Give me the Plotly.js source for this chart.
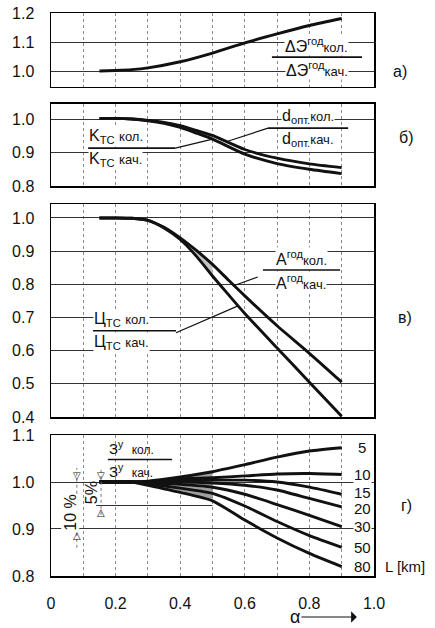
<!DOCTYPE html>
<html><head><meta charset="utf-8">
<script src="https://cdn.plot.ly/plotly-3.0.1.min.js"></script>
<style>html,body{margin:0;padding:0;background:#fff}#chart{width:435px;height:628px}</style>
</head><body><div id="chart"></div>
<script>
// ---- data ----
const alphaA = [0.15, 0.2, 0.25, 0.3, 0.4, 0.5, 0.6, 0.7, 0.8, 0.9];
const ratioEnergyLoss = [1.0, 1.002, 1.005, 1.011, 1.032, 1.062, 1.097, 1.128, 1.157, 1.181];

const alphaB = [0.15, 0.2, 0.25, 0.3, 0.35, 0.4, 0.45, 0.5, 0.6, 0.7, 0.8, 0.9];
const ratioDopt = [1.002, 1.002, 1.0, 0.996, 0.99, 0.98, 0.966, 0.951, 0.909, 0.883, 0.866, 0.855];
const ratioKtc  = [1.002, 1.002, 1.0, 0.995, 0.987, 0.975, 0.958, 0.940, 0.895, 0.867, 0.850, 0.837];

const alphaC = [0.15, 0.2, 0.25, 0.3, 0.35, 0.4, 0.45, 0.5, 0.55, 0.6, 0.7, 0.8, 0.9];
const ratioAnnual = [1.0, 1.0, 0.999, 0.993, 0.972, 0.94, 0.902, 0.86, 0.812, 0.765, 0.675, 0.592, 0.505];
const ratioCtc    = [1.0, 1.0, 0.999, 0.993, 0.970, 0.935, 0.885, 0.825, 0.768, 0.712, 0.608, 0.505, 0.402];

const alphaD = [0.15, 0.2, 0.25, 0.3, 0.4, 0.5, 0.6, 0.7, 0.8, 0.9];
const lengthLabels = ['5', '10', '15', '20', '30', '50', '80'];
const costL5  = [1.0, 1.0, 1.0, 1.002, 1.011, 1.022, 1.037, 1.053, 1.066, 1.073];
const costL10 = [1.0, 1.0, 1.0, 1.001, 1.007, 1.009, 1.013, 1.017, 1.018, 1.016];
const costL15 = [1.0, 1.0, 1.0, 1.0, 1.004, 1.004, 1.004, 1.0, 0.989, 0.974];
const costL20 = [1.0, 1.0, 1.0, 0.999, 1.0, 0.998, 0.993, 0.983, 0.965, 0.947];
const costL30 = [1.0, 1.0, 1.0, 0.998, 0.995, 0.989, 0.974, 0.952, 0.929, 0.905];
const costL50 = [1.0, 1.0, 1.0, 0.996, 0.987, 0.976, 0.949, 0.916, 0.886, 0.861];
const costL80 = [1.0, 1.0, 1.0, 0.993, 0.978, 0.960, 0.919, 0.881, 0.848, 0.820];

const xTickVals = [0, 0.2, 0.4, 0.6, 0.8, 1.0];
const xTickText = ['0', '0.2', '0.4', '0.6', '0.8', '1.0'];

// ---- build ----
const FONT = 'Liberation Sans, Arial, sans-serif';
const INK = '#111';
const costSeries = [costL5, costL10, costL15, costL20, costL30, costL50, costL80];

function curve(x, y, xa, ya) {
  return {x: x, y: y, xaxis: xa, yaxis: ya, type: 'scatter', mode: 'lines',
          line: {color: INK, width: 2.9, shape: 'spline', smoothing: 0.6},
          hoverinfo: 'skip', showlegend: false};
}
function band(xs, top, bot, lo, hi, xa, ya, color) {
  const idx = xs.map((v, i) => i).filter(i => xs[i] >= lo - 1e-9 && xs[i] <= hi + 1e-9);
  const rev = idx.slice().reverse();
  return {x: idx.map(i => xs[i]).concat(rev.map(i => xs[i])),
          y: idx.map(i => top[i]).concat(rev.map(i => bot[i])),
          xaxis: xa, yaxis: ya, type: 'scatter', mode: 'lines', fill: 'toself',
          fillcolor: color, line: {width: 0}, hoverinfo: 'skip', showlegend: false};
}

const traces = [];
traces.push(curve(alphaA, ratioEnergyLoss, 'x', 'y'));
traces.push(band(alphaB, ratioDopt, ratioKtc, 0.3, 0.5, 'x2', 'y2', '#c4c4c4'));
traces.push(curve(alphaB, ratioDopt, 'x2', 'y2'));
traces.push(curve(alphaB, ratioKtc, 'x2', 'y2'));
traces.push(band(alphaC, ratioAnnual, ratioCtc, 0.3, 0.5, 'x3', 'y3', '#c4c4c4'));
traces.push(curve(alphaC, ratioAnnual, 'x3', 'y3'));
traces.push(curve(alphaC, ratioCtc, 'x3', 'y3'));
traces.push(band(alphaD, costL5, costL80, 0.25, 0.5, 'x4', 'y4', '#a0a0a0'));
costSeries.forEach(s => traces.push(curve(alphaD, s, 'x4', 'y4')));

const xBase = {range: [0, 1], tickvals: xTickVals, ticktext: xTickText,
  showgrid: true, gridcolor: '#8a8a8a', griddash: 'dot', gridwidth: 1,
  minor: {dtick: 0.1, tick0: 0, showgrid: true, gridcolor: '#8a8a8a', griddash: 'dot', gridwidth: 1, ticks: ''},
  showline: true, linecolor: '#000', linewidth: 1.5, mirror: true,
  zeroline: false, ticks: '', showticklabels: false,
  tickfont: {size: 16, color: INK, family: FONT}};
function yAx(domain, range, anchor) {
  return {domain: domain, range: range, anchor: anchor, dtick: 0.1, tick0: 0,
    tickformat: '.1f', showgrid: true, gridcolor: '#333', gridwidth: 1,
    showline: true, linecolor: '#000', linewidth: 1.5, mirror: true,
    zeroline: false, ticks: '', ticklabelstandoff: 12,
    tickfont: {size: 16, color: INK, family: FONT}};
}

const ann = [];
const shapes = [];
function txt(xr, yr, x, y, text, opts) {
  ann.push(Object.assign({xref: xr, yref: yr, x: x, y: y, text: text, showarrow: false,
    font: {size: 16, color: INK, family: FONT}, bgcolor: '#fff', borderpad: 0}, opts || {}));
}
function seg(xr, yr, x0, y0, x1, y1, opts) {
  shapes.push(Object.assign({type: 'line', xref: xr, yref: yr, x0: x0, y0: y0, x1: x1, y1: y1,
    line: {color: INK, width: 1.2}}, opts || {}));
}
const small = (s, px) => '<span style="font-size:' + (px || 13) + 'px">' + s + '</span>';
// fraction: numerator above a bar, denominator below it
function frac(xr, yr, x0, x1, ybar, num, den, align, extraOpts) {
  const xc = align === 'left' ? x0 : (x0 + x1) / 2;
  const xa = align === 'left' ? 'left' : 'center';
  const extra = Object.assign({xanchor: xa}, extraOpts || {});
  seg(xr, yr, x0, ybar, x1, ybar, {line: {color: INK, width: 1.6}});
  txt(xr, yr, xc, ybar, num, Object.assign({yanchor: 'bottom', yshift: 1}, extra));
  txt(xr, yr, xc, ybar, den, Object.assign({yanchor: 'top', yshift: -1}, extra));
}
const letter = {bgcolor: 'rgba(0,0,0,0)', xanchor: 'center', yanchor: 'middle'};

// panel a
frac('x', 'y', 0.684, 0.963, 1.048, 'ΔЭ<sup>год</sup>' + small('кол.'), 'ΔЭ<sup>год</sup>' + small('кач.'));
txt('paper', 'y', 1.08, 1.0, 'а)', letter);

// panel б
frac('x2', 'y2', 0.672, 0.92, 0.973, 'd<sub>опт.</sub>' + small('кол.'), 'd<sub>опт.</sub>' + small('кач.'));
seg('x2', 'y2', 0.672, 0.973, 0.545, 0.933);
frac('x2', 'y2', 0.115, 0.385, 0.913, 'K<sub>TC</sub> ' + small('кол.'), 'K<sub>TC</sub> ' + small('кач.'), 'left');
seg('x2', 'y2', 0.385, 0.913, 0.50, 0.94);
txt('paper', 'y2', 1.10, 0.946, 'б)', letter);

// panel в
frac('x3', 'y3', 0.656, 0.895, 0.843, 'A<sup>год</sup>' + small('кол.'), 'A<sup>год</sup>' + small('кач.'));
seg('x3', 'y3', 0.64, 0.822, 0.563, 0.795);
frac('x3', 'y3', 0.13, 0.387, 0.660, 'Ц<sub>TC</sub> ' + small('кол.'), 'Ц<sub>TC</sub> ' + small('кач.'), 'left');
seg('x3', 'y3', 0.387, 0.654, 0.579, 0.735);
txt('paper', 'y3', 1.095, 0.70, 'в)', letter);

// panel г
frac('x4', 'y4', 0.176, 0.375, 1.048, 'З<sup>у</sup>  ' + small('кол.', 12), 'З<sup>у</sup>  ' + small('кач.', 12), 'left',
     {bgcolor: 'rgba(0,0,0,0)', font: {size: 15, color: INK, family: FONT}});
const labelShift = [0, 0, 2, -2, 0, 0, 0];
lengthLabels.forEach((lab, i) => {
  const s = costSeries[i];
  txt('x4', 'y4', 0.963, s[s.length - 1], lab, {font: {size: 15, color: INK, family: FONT}, yshift: labelShift[i]});
});
txt('paper', 'y4', 1.097, costL80[costL80.length - 1], 'L [km]', {font: {size: 15, color: INK, family: FONT}, bgcolor: 'rgba(0,0,0,0)', xanchor: 'center'});
txt('paper', 'y4', 1.10, 0.951, 'г)', letter);
seg('x4', 'y4', 0.14, 0.95, 0.5, 0.95, {line: {color: '#333', width: 1}});
seg('x4', 'y4', 0.08, 0.86, 0.08, 1.03, {line: {color: '#777', width: 1, dash: 'dot'}});
seg('x4', 'y4', 0.155, 0.93, 0.155, 1.03, {line: {color: '#777', width: 1, dash: 'dot'}});
txt('x4', 'y4', 0.058, 0.934, '10 %', {textangle: -90});
txt('x4', 'y4', 0.125, 0.977, '5%', {textangle: -90, bgcolor: 'rgba(0,0,0,0)'});
const tri = {font: {size: 10, color: INK, family: 'DejaVu Sans'}, bgcolor: 'rgba(0,0,0,0)'};
txt('x4', 'y4', 0.08, 1.0, '▽', Object.assign({yanchor: 'bottom'}, tri));
txt('x4', 'y4', 0.155, 1.0, '▽', Object.assign({yanchor: 'bottom'}, tri));
txt('x4', 'y4', 0.08, 0.9, '△', Object.assign({yanchor: 'top'}, tri));
txt('x4', 'y4', 0.155, 0.95, '△', Object.assign({yanchor: 'top'}, tri));

// x-axis label "α ⟶" drawn as a text with an arrow
ann.push({xref: 'paper', yref: 'paper', x: 0.947, y: -0.0728, text: 'α', showarrow: true,
  ax: -62, ay: 0, arrowhead: 1, arrowsize: 1.6, arrowwidth: 1.2, arrowcolor: INK,
  font: {size: 18, color: INK, family: FONT}});

const layout = {
  width: 435, height: 628,
  margin: {l: 51, r: 61, t: 13, b: 52},
  paper_bgcolor: '#fff', plot_bgcolor: '#fff',
  font: {family: FONT, color: INK},
  showlegend: false,
  xaxis:  Object.assign({}, xBase, {anchor: 'y'}),
  xaxis2: Object.assign({}, xBase, {anchor: 'y2'}),
  xaxis3: Object.assign({}, xBase, {anchor: 'y3'}),
  xaxis4: Object.assign({}, xBase, {anchor: 'y4', showticklabels: true, ticklabelstandoff: 12}),
  yaxis:  yAx([0.8686, 1.0], [0.945, 1.2001], 'x'),
  yaxis2: yAx([0.6927, 0.8384], [0.7999, 1.045], 'x2'),
  yaxis3: yAx([0.2824, 0.6607], [0.3999, 1.042], 'x3'),
  yaxis4: yAx([0, 0.2504], [0.7999, 1.1001], 'x4'),
  annotations: ann,
  shapes: shapes
};

Plotly.newPlot('chart', traces, layout, {displayModeBar: false, staticPlot: true});
</script></body></html>
